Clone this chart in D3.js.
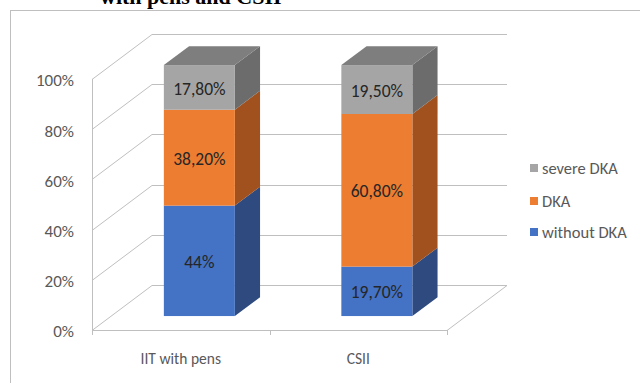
<!DOCTYPE html>
<html>
<head>
<meta charset="utf-8">
<script src="https://cdn.jsdelivr.net/npm/d3@7"></script>
<style>
  body { margin: 0; background: white; }
  text { font-family: Carlito, Calibri, Lato, sans-serif; }
</style>
</head>
<body>
<div id="mysvg"></div>
<script>
// data
var categories = ["IIT with pens", "CSII"];
var seriesNames = ["without DKA", "DKA", "severe DKA"];
var withoutDKA = [44, 19.7];
var dka = [38.2, 60.8];
var severeDKA = [17.8, 19.5];
var valueLabels = [["44%", "19,70%"], ["38,20%", "60,80%"], ["17,80%", "19,50%"]];
var yTicks = [0, 20, 40, 60, 80, 100];
var yTickLabels = ["0%", "20%", "40%", "60%", "80%", "100%"];

var w = 640;
var h = 383;

// front plane of the 3d box and depth offset to the back wall
var front = {left: 92, right: 447, top: 79, bottom: 330};
var depthX = 60, depthY = -45;
var barD0 = 0.31, barD1 = 0.73;

var colors = {
  front: ["#4472C4", "#ED7D31", "#A5A5A5"],
  side:  ["#2E4A7F", "#A0511E", "#6C6C6C"],
  top:   ["#3A619F", "#C8682A", "#7E7E7E"]
};

var svg = d3.select("#mysvg")
  .append("svg")
    .attr("width", w)
    .attr("height", h);

svg.append("rect")
  .attr("x", 0).attr("y", 0)
  .attr("width", w).attr("height", h)
  .attr("fill", "white");

// cut-off title from the page above
svg.append("text")
  .attr("x", 100)
  .attr("y", 4)
  .style("font-family", "'Liberation Serif', 'Times New Roman', serif")
  .style("font-weight", "bold")
  .style("font-size", "22px")
  .attr("fill", "#000")
  .text("with pens and CSII");

// chart border
svg.append("rect")
  .attr("x", 10.5).attr("y", 10.5)
  .attr("width", 700).attr("height", 400)
  .attr("fill", "none")
  .attr("stroke", "#BFBFBF")
  .attr("stroke-width", 1);

var yScale = d3.scaleLinear()
  .domain([0, 100])
  .range([front.bottom, front.top]);

var xScale = d3.scaleBand()
  .domain(categories)
  .range([front.left, front.right])
  .paddingInner(0.6)
  .paddingOuter(0.3);

function px(x, d) { return x + depthX * d; }
function py(y, d) { return y + depthY * d; }

var grid = svg.append("g").attr("stroke", "#BFBFBF").attr("stroke-width", 1).attr("fill", "none");

// back wall lines and left wall diagonals
yTicks.forEach(function (t) {
  var yy = Math.round(yScale(t)) + 0.5;
  grid.append("line")
    .attr("x1", px(front.left, 1)).attr("y1", py(yy, 1))
    .attr("x2", px(front.right, 1)).attr("y2", py(yy, 1));
  grid.append("line")
    .attr("x1", front.left).attr("y1", yy)
    .attr("x2", px(front.left, 1)).attr("y2", py(yy, 1));
});

// floor right edge
grid.append("line")
  .attr("x1", front.right).attr("y1", front.bottom + 0.5)
  .attr("x2", px(front.right, 1)).attr("y2", py(front.bottom + 0.5, 1));

// value axis line
grid.append("line")
  .attr("x1", front.left + 0.5).attr("y1", front.top)
  .attr("x2", front.left + 0.5).attr("y2", front.bottom);

// category axis with ticks
var xAxisG = svg.append("g").attr("stroke", "#BFBFBF").attr("stroke-width", 1);
xAxisG.append("line")
  .attr("x1", front.left).attr("y1", front.bottom + 0.5)
  .attr("x2", front.right).attr("y2", front.bottom + 0.5);
var step = xScale.step();
[0, 1, 2].forEach(function (i) {
  var xx = Math.round(front.left + i * step) + 0.5;
  xAxisG.append("line")
    .attr("x1", xx).attr("y1", front.bottom)
    .attr("x2", xx).attr("y2", front.bottom + 5);
});

// y tick labels
svg.append("g")
  .selectAll("text")
  .data(yTicks)
  .enter()
  .append("text")
    .attr("x", 74)
    .attr("y", function (d) { return yScale(d) + 1.5; })
    .attr("dy", "0.35em")
    .attr("text-anchor", "end")
    .attr("fill", "#595959")
    .style("font-size", "17px")
    .text(function (d, i) { return yTickLabels[i]; });

// category labels
svg.append("g")
  .selectAll("text")
  .data(categories)
  .enter()
  .append("text")
    .attr("x", function (d) { return xScale(d) + xScale.bandwidth() / 2; })
    .attr("y", 364)
    .attr("text-anchor", "middle")
    .attr("fill", "#595959")
    .style("font-size", "15.5px")
    .text(function (d) { return d; });

// stacked 3d bars
var series = [withoutDKA, dka, severeDKA];
var stacked = categories.map(function (c, ci) {
  var base = 0;
  return series.map(function (s, si) {
    var seg = {cat: c, ci: ci, si: si, v0: base, v1: base + s[ci], label: valueLabels[si][ci]};
    base += s[ci];
    return seg;
  });
});

var bars = svg.append("g");
stacked.forEach(function (segs) {
  segs.forEach(function (seg, k) {
    var x0 = px(xScale(seg.cat), barD0);
    var x1 = px(xScale(seg.cat) + xScale.bandwidth(), barD0);
    var yTop = py(yScale(seg.v1), barD0);
    var yBot = py(yScale(seg.v0), barD0);
    var ddx = depthX * (barD1 - barD0), ddy = depthY * (barD1 - barD0);

    // side face
    bars.append("path")
      .attr("d", "M" + x1 + "," + yTop + "L" + (x1 + ddx) + "," + (yTop + ddy) +
                 "L" + (x1 + ddx) + "," + (yBot + ddy) + "L" + x1 + "," + yBot + "Z")
      .attr("fill", colors.side[seg.si]);
    // top face only for the last segment
    if (k === segs.length - 1) {
      bars.append("path")
        .attr("d", "M" + x0 + "," + yTop + "L" + (x0 + ddx) + "," + (yTop + ddy) +
                   "L" + (x1 + ddx) + "," + (yTop + ddy) + "L" + x1 + "," + yTop + "Z")
        .attr("fill", colors.top[seg.si]);
    }
    // front face
    bars.append("rect")
      .attr("x", x0)
      .attr("y", yTop)
      .attr("width", x1 - x0)
      .attr("height", yBot - yTop)
      .attr("fill", colors.front[seg.si]);

    bars.append("text")
      .attr("x", (x0 + x1) / 2)
      .attr("y", (yTop + yBot) / 2 + 1)
      .attr("dy", "0.35em")
      .attr("text-anchor", "middle")
      .attr("fill", "#262626")
      .style("font-size", "17.5px")
      .text(seg.label);
  });
});

// legend, top entry first
var legendY = [232, 201, 168];
var legend = svg.append("g")
  .selectAll("g")
  .data(seriesNames)
  .enter()
  .append("g")
    .attr("transform", function (d, i) { return "translate(530," + legendY[i] + ")"; });
legend.append("rect")
  .attr("x", 0).attr("y", -4)
  .attr("width", 8).attr("height", 8)
  .attr("fill", function (d, i) { return colors.front[i]; });
legend.append("text")
  .attr("x", 12)
  .attr("y", 0.5)
  .attr("dy", "0.35em")
  .attr("fill", "#595959")
  .style("font-size", "16.5px")
  .text(function (d) { return d; });
</script>
</body>
</html>
